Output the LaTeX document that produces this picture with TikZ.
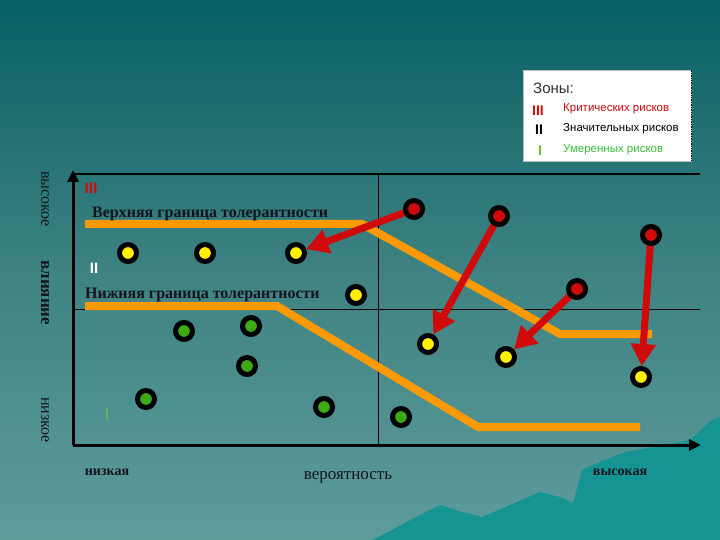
\documentclass[tikz,border=0pt]{standalone}
\usepackage{fontspec}
\setmainfont{Liberation Serif}
\newfontfamily\legfont{Liberation Sans}
\usetikzlibrary{arrows.meta}
\pgfdeclarelayer{back}
\pgfdeclarelayer{mid}
\pgfsetlayers{back,mid,main}
\definecolor{bgtop}{RGB}{8,96,100}
\definecolor{bgmid}{RGB}{62,130,130}
\definecolor{bgbot}{RGB}{94,156,156}
\definecolor{land}{RGB}{22,148,148}
\definecolor{tol}{RGB}{255,153,0}
\definecolor{rk}{RGB}{208,10,10}
\definecolor{yl}{RGB}{255,240,0}
\definecolor{gr}{RGB}{60,170,20}
\definecolor{txt}{RGB}{20,20,30}
\tikzset{
  risk/.style={circle,draw=black,line width=5pt,minimum size=17pt,inner sep=0pt},
  yrisk/.style={risk,fill=yl},
  grisk/.style={risk,fill=gr},
  rrisk/.style={risk,fill=rk},
  tolline/.style={tol,line width=8pt},
  move/.style={rk,line width=7pt,-{Triangle[length=22pt,width=24pt]}},
  axis/.style={black,line width=3pt,-{Triangle[length=12pt,width=11pt]}},
  grid/.style={black,line width=0.8pt},
  bound/.style={font=\fontsize{16}{18}\selectfont\bfseries,text=txt,inner sep=0pt,anchor=base west},
  side/.style={font=\fontsize{16}{18}\selectfont,text=txt,rotate=-90,inner sep=0pt},
  bot/.style={font=\fontsize{14}{16}\selectfont\bfseries,text=txt,inner sep=0pt},
  leg/.style={font=\legfont\fontsize{11.5}{13}\selectfont,inner sep=0pt,anchor=west},
  legnum/.style={font=\legfont\bfseries\fontsize{14}{14}\selectfont,inner sep=0pt}
}
\begin{document}
\begin{tikzpicture}[x=1pt,y=-1pt]
\useasboundingbox (0,0) rectangle (720,540);
\begin{pgfonlayer}{back}
  \shade[top color=bgtop,bottom color=bgbot,middle color=bgmid] (0,0) rectangle (720,540);
  \fill[land] (372,540) -- (392,530) -- (412,519) -- (440,505) -- (462,512) -- (482,517)
    -- (510,505) -- (540,492) -- (560,497) -- (573,503) -- (578,485) -- (582,470)
    -- (600,462) -- (625,452) -- (660,446) -- (690,440) -- (703,428) -- (712,420)
    -- (720,417) -- (720,540) -- cycle;
  % grid
  \coordinate (o) at (73,445);
  \coordinate (ytop) at (73,170);
  \coordinate (xend) at (701,445);
  \coordinate (tl) at (73,174);
  \coordinate (tr) at (700,174);
  \coordinate (ml) at (73,309);
  \coordinate (mr) at (700,309);
  \coordinate (vt) at (378,174);
  \coordinate (vb) at (378,445);
  \draw[black,line width=1.6pt] (tl) -- (tr);
  \draw[grid] (ml) -- (mr);
  \draw[grid] (vt) -- (vb);
  \draw[axis] (o) -- (ytop);
  \draw[axis] (o) -- (xend);
  % tolerance boundaries
  \draw[tolline] (85,224) -- (362,224) -- (560,334) -- (652,334);
  \draw[tolline] (85,306) -- (277,306) -- (478,427) -- (640,427);
\end{pgfonlayer}

% risks
\node[yrisk] (y1) at (128,253) {};
\node[yrisk] (y2) at (205,253) {};
\node[yrisk] (y3) at (296,253) {};
\node[yrisk] (y4) at (356,295) {};
\node[yrisk] (y5) at (428,344) {};
\node[yrisk] (y6) at (506,357) {};
\node[yrisk] (y7) at (641,377) {};
\node[grisk] (g1) at (184,331) {};
\node[grisk] (g2) at (251,326) {};
\node[grisk] (g3) at (247,366) {};
\node[grisk] (g4) at (146,399) {};
\node[grisk] (g5) at (324,407) {};
\node[grisk] (g6) at (401,417) {};
\node[rrisk] (r1) at (414,209) {};
\node[rrisk] (r2) at (499,216) {};
\node[rrisk] (r3) at (651,235) {};
\node[rrisk] (r4) at (577,289) {};

\begin{pgfonlayer}{mid}
  \draw[move] (r1.center) -- (y3);
  \draw[move] (r2.center) -- (y5);
  \draw[move] (r4.center) -- (y6);
  \draw[move] (r3.center) -- (y7);
\end{pgfonlayer}

% zone labels
\node[font=\legfont\bfseries\fontsize{15}{15}\selectfont,text=rk,inner sep=0pt] (z3) at (91,188) {III};
\node[font=\legfont\bfseries\fontsize{15}{15}\selectfont,text=white,inner sep=0pt] (z2) at (94,268) {II};
\node[font=\legfont\fontsize{17}{17}\selectfont,text={rgb,255:red,80;green,200;blue,80},inner sep=0pt] (z1) at (107,415) {I};

\node[bound] (ub) at (92,218) {Верхняя граница толерантности};
\node[bound] (lb) at (85,298) {Нижняя граница толерантности};

% axis labels
\node[side] (hi) at (45,199) {высокое};
\node[side,font=\fontsize{17}{18}\selectfont\bfseries] (inf) at (45,293) {влияние};
\node[side] (lo) at (45,420) {низкое};
\node[bot] (low) at (107,472) {низкая};
\node[font=\fontsize{17}{18}\selectfont,text=txt,inner sep=0pt] (prob) at (348,477) {вероятность};
\node[bot] (high) at (620,472) {высокая};

% legend
\node[fill=white,draw={rgb,255:red,190;green,190;blue,190},line width=0.6pt,minimum width=168pt,minimum height=91pt,inner sep=0pt] (legend) at (607,115.5) {};
\draw[black,densely dotted,line width=0.7pt] (legend.north east) -- (legend.south east);
\node[font=\legfont\fontsize{15}{15}\selectfont,text={rgb,255:red,50;green,50;blue,50},inner sep=0pt,anchor=west] (zt) at (533,88) {Зоны:};
\node[legnum,text=rk] (n3) at (538,111) {III};
\node[legnum,text=black] (n2) at (539,130) {II};
\node[legnum,text={rgb,255:red,110;green,190;blue,40}] (n1) at (540,151) {I};
\node[leg,text=rk] (t3) at (563,109) {Критических рисков};
\node[leg,text=black] (t2) at (563,129) {Значительных рисков};
\node[leg,text={rgb,255:red,60;green,190;blue,60}] (t1) at (563,150) {Умеренных рисков};
\end{tikzpicture}
\end{document}
